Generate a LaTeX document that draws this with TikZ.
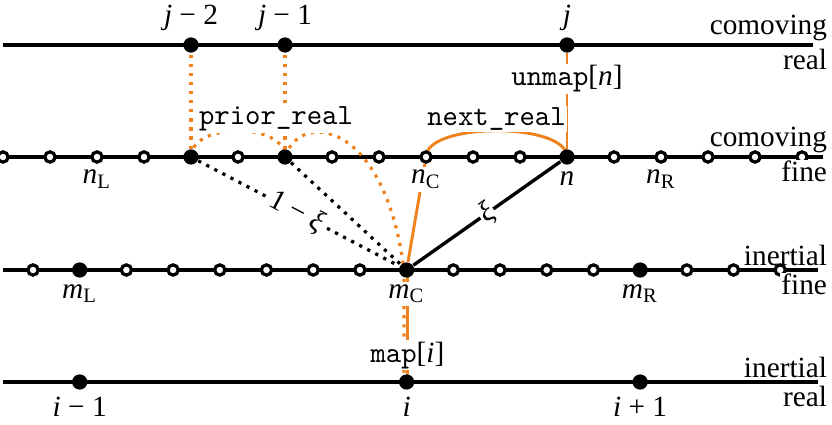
\documentclass[tikz,border=0pt]{standalone}
\usepackage{fontspec}
\setmainfont{Liberation Serif}
\usepackage{tikz}
\usetikzlibrary{positioning, backgrounds}
\definecolor{maporange}{RGB}{240,130,30}

\begin{document}
\begin{tikzpicture}[
    x=0.012cm, y=0.012cm,
    gridline/.style={line width=1.15pt},
    realpt/.style={circle, fill=black, inner sep=0pt, minimum size=5.2pt},
    finept/.style={circle, draw=black, fill=white, line width=1.1pt,
                   inner sep=0pt, minimum size=3.5pt},
    ptlabel/.style={inner sep=1pt, fill=white},
    rowlabel/.style={inner sep=0.5pt},
    mapline/.style={draw=maporange, line width=1pt},
    mapdots/.style={draw=maporange, line width=1.1pt, dotted},
    wline/.style={line width=1.15pt},
    wdots/.style={line width=1.1pt, dotted},
    fname/.style={inner sep=0.5pt, fill=white},
]
\useasboundingbox (0,0) rectangle (832,424);

% grid points: comoving real / fine, inertial fine / real
\foreach \k in {4,6,12}
    \node[realpt] (cr\k) at ({3+47*\k},379) {};
\foreach \k in {0,...,3,5,7,8,...,11,13,14,...,17}
    \node[finept] (cf\k) at ({3+47*\k},267) {};
\foreach \k in {4,6,12}
    \node[realpt] (cf\k) at ({3+47*\k},267) {};
\foreach \k in {0,2,3,...,7,9,10,11,12,14,15,16}
    \node[finept] (if\k) at ({33+46.7*\k},154) {};
\foreach \k in {1,8,13}
    \node[realpt] (if\k) at ({33+46.7*\k},154) {};
\foreach \k in {1,8,13}
    \node[realpt] (ir\k) at ({33+46.7*\k},42) {};

\begin{scope}[on background layer]
% the four grids
\draw[gridline] (3,379) -- (813,379);
\draw[gridline] (-5,267) -- (823,267);
\draw[gridline] (3,154) -- (818,154);
\draw[gridline] (3,42) -- (818,42);

% maps between grids
\draw[mapline] (cf12) -- node[fname, pos=0.73] (unmap) {\texttt{unmap}[\textit{n}]} (cr12);
\draw[mapline] (cf9.center) .. controls +(0,35) and +(0,35) .. (cf12.center)
    node[fname, midway, anchor=south, yshift=-1pt] (nextr) {\texttt{next\_real}};
\draw[mapline] (if8) -- (cf9);
\draw[mapdots] ([xshift=-0.9pt]ir8.center) -- ([xshift=-0.9pt]if8.center)
    .. controls (385,304) and (300,314) .. (cf6.center)
    .. controls +(0,35) and +(0,35) .. (cf4.center);
\draw[mapdots] (cf4) -- (cr4);
\draw[mapdots] (cf6) -- (cr6);
\draw[mapline] ([xshift=0.3pt]ir8.center) -- node[fname, pos=0.24] (map) {\texttt{map}[\textit{i}]}
    ([xshift=0.3pt]if8.center);
\node[fname] (priorr) at (276,305) {\texttt{prior\_real}};

% weights
\draw[wline] (if8) -- node[sloped, fill=white, inner sep=0.5pt] (xi) {\textit{ξ}} (cf12);
\draw[wdots] (cf6) -- (if8);
\draw[wdots] (cf4) -- node[sloped, fill=white, inner sep=0.5pt, pos=0.49] (onexi)
    {1 − \textit{ξ}} (if8);
\end{scope}

% point labels
\node[ptlabel, above=1pt of cr4] (lj2) {\textit{j} − 2};
\node[ptlabel, above=1pt of cr6] (lj1) {\textit{j} − 1};
\node[ptlabel, above=1pt of cr12] (lj) {\textit{j}};
\node[ptlabel, below=1pt of cf2] (lnL) {\textit{n}\textsubscript{L}};
\node[ptlabel, below=1pt of cf9] (lnC) {\textit{n}\textsubscript{C}};
\node[ptlabel, below=1pt of cf12] (ln) {\textit{n}};
\node[ptlabel, below=1pt of cf14] (lnR) {\textit{n}\textsubscript{R}};
\node[ptlabel, below=1pt of if1] (lmL) {\textit{m}\textsubscript{L}};
\node[ptlabel, below=1pt of if8] (lmC) {\textit{m}\textsubscript{C}};
\node[ptlabel, below=1pt of if13] (lmR) {\textit{m}\textsubscript{R}};
\node[ptlabel, below=1pt of ir1] (li1) {\textit{i} − 1};
\node[ptlabel, below=1pt of ir8] (li) {\textit{i}};
\node[ptlabel, below=1pt of ir13] (li2) {\textit{i} + 1};

% grid names
\node[rowlabel, anchor=south east] (cra) at (829,381) {comoving};
\node[rowlabel, anchor=north east, fill=white] (crb) at (829,377) {real};
\node[rowlabel, anchor=south east] (cfa) at (829,269) {comoving};
\node[rowlabel, anchor=north east, fill=white] (cfb) at (829,265) {fine};
\node[rowlabel, anchor=south east] (ifa) at (829,156) {inertial};
\node[rowlabel, anchor=north east, fill=white] (ifb) at (829,152) {fine};
\node[rowlabel, anchor=south east] (ira) at (829,44) {inertial};
\node[rowlabel, anchor=north east, fill=white] (irb) at (829,40) {real};
\end{tikzpicture}
\end{document}
